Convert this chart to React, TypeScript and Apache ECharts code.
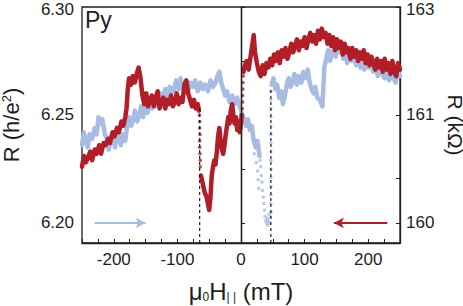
import React, { useEffect, useRef } from 'react';
import * as echarts from 'echarts';

// ---- axis ranges / ticks ----
const fieldMin = -250;
const fieldMax = 250;
const rMin = 6.1907;
const rMax = 6.3;
const leftTickValues = [6.2, 6.225, 6.25, 6.275, 6.3];
const leftLabelValues = [6.2, 6.25, 6.3];
const rightTickValues = [6.2, 6.2205, 6.25, 6.3];
const rightLabelValues = [6.2, 6.25, 6.3];
const rightLabelTexts = ['160', '161', '163'];

// ---- blue sweep (negative -> positive field) ----
const blueLow: [number, number][] = [
  [-250, 6.236], [-247, 6.242], [-244, 6.238], [-241, 6.235], [-238, 6.241], [-234, 6.239], [-230, 6.244],
  [-227, 6.241], [-224, 6.249], [-221, 6.246], [-218, 6.248], [-214, 6.241], [-211, 6.239], [-208, 6.234],
  [-205, 6.238], [-202, 6.24], [-198, 6.235], [-195, 6.242], [-192, 6.239], [-189, 6.236], [-186, 6.241],
  [-182, 6.238], [-179, 6.245], [-176, 6.249], [-173, 6.245], [-170, 6.247], [-167, 6.252], [-163, 6.247],
  [-160, 6.25], [-157, 6.254], [-154, 6.249], [-150, 6.255], [-147, 6.251], [-143, 6.257], [-140, 6.253],
  [-136, 6.256], [-133, 6.259], [-130, 6.254], [-126, 6.26], [-123, 6.256], [-119, 6.262], [-116, 6.258],
  [-112, 6.263], [-109, 6.26], [-106, 6.261], [-102, 6.266], [-98, 6.262], [-95, 6.267], [-91, 6.262],
  [-87, 6.265], [-84, 6.26], [-80, 6.265], [-76, 6.263], [-72, 6.266], [-68, 6.261], [-64, 6.265],
  [-60, 6.262], [-56, 6.264], [-52, 6.261], [-48, 6.266], [-44, 6.263], [-40, 6.265], [-37, 6.268],
  [-34, 6.27], [-31, 6.265], [-28, 6.262], [-25, 6.259], [-22, 6.261], [-18, 6.256], [-14, 6.259],
  [-10, 6.255], [-6, 6.258], [-2, 6.254], [2, 6.25], [5, 6.248], [8, 6.245],
  [11, 6.248], [14, 6.243], [17, 6.245], [20, 6.238], [23, 6.235], [26, 6.238], [29, 6.231],
];
const blueDots: [number, number][] = [
  [30, 6.229], [31, 6.226], [32, 6.222], [33, 6.219], [34, 6.215], [35, 6.212], [36, 6.209],
  [37, 6.206], [38, 6.203], [39, 6.201], [40, 6.2], [41, 6.202], [42, 6.199], [43, 6.201],
  [44, 6.204], [45, 6.2], [46, 6.203], [21, 6.232], [24, 6.228], [26, 6.224], [27, 6.22],
  [28, 6.216],
  [47, 6.205], [47, 6.209], [47, 6.213], [47, 6.217], [47, 6.221], [47, 6.225], [47, 6.229],
  [47, 6.233], [47, 6.237], [47, 6.241], [47, 6.245], [47, 6.249], [47, 6.253], [47, 6.257],
  [47, 6.261],
];
const blueHigh: [number, number][] = [
  [48, 6.264], [51, 6.267], [54, 6.262], [57, 6.264], [60, 6.258], [63, 6.261], [66, 6.255],
  [69, 6.259], [72, 6.264], [75, 6.267], [78, 6.263], [81, 6.265], [84, 6.269], [88, 6.264],
  [91, 6.268], [95, 6.265], [98, 6.27], [102, 6.267], [105, 6.271], [108, 6.265], [111, 6.262],
  [114, 6.26], [117, 6.263], [120, 6.258], [124, 6.257], [128, 6.254], [131, 6.272], [134, 6.276],
  [137, 6.28], [140, 6.275], [143, 6.279], [146, 6.282], [149, 6.277], [152, 6.283], [155, 6.279],
  [158, 6.281], [161, 6.276], [164, 6.279], [167, 6.274], [171, 6.278], [174, 6.275], [178, 6.277],
  [181, 6.273], [184, 6.278], [188, 6.272], [191, 6.275], [194, 6.271], [198, 6.276], [201, 6.272],
  [205, 6.274], [208, 6.27], [212, 6.273], [215, 6.268], [219, 6.272], [222, 6.269], [226, 6.267],
  [229, 6.271], [233, 6.266], [236, 6.27], [240, 6.267], [243, 6.265], [247, 6.27], [250, 6.268],
];

// ---- red sweep (positive -> negative field) ----
const redLow: [number, number][] = [
  [-250, 6.226], [-247, 6.231], [-244, 6.228], [-241, 6.23], [-237, 6.233], [-234, 6.229], [-230, 6.234],
  [-227, 6.232], [-223, 6.236], [-220, 6.232], [-216, 6.237], [-213, 6.236], [-209, 6.239], [-206, 6.237],
  [-202, 6.242], [-199, 6.24], [-195, 6.244], [-192, 6.242], [-188, 6.247], [-185, 6.245], [-182, 6.249],
  [-180, 6.253], [-178, 6.262], [-176, 6.267], [-173, 6.264], [-170, 6.268], [-167, 6.265], [-164, 6.269],
  [-161, 6.272], [-158, 6.267], [-155, 6.259], [-152, 6.255], [-149, 6.26], [-146, 6.254], [-143, 6.257],
  [-140, 6.259], [-137, 6.254], [-134, 6.258], [-131, 6.261], [-128, 6.253], [-125, 6.256], [-122, 6.258],
  [-119, 6.253], [-116, 6.257], [-113, 6.255], [-110, 6.259], [-107, 6.254], [-104, 6.256], [-101, 6.26],
  [-98, 6.255], [-95, 6.258], [-92, 6.256], [-89, 6.264], [-86, 6.266], [-83, 6.26], [-80, 6.257],
  [-77, 6.254], [-74, 6.257], [-71, 6.253], [-68, 6.255], [-66, 6.252],
];
const redMid: [number, number][] = [
  [-63, 6.222], [-60, 6.218], [-57, 6.214], [-54, 6.212], [-52, 6.209], [-50, 6.206],
  [-48, 6.212], [-46, 6.222], [-44, 6.226], [-42, 6.229], [-40, 6.227], [-38, 6.233],
  [-36, 6.24], [-34, 6.244], [-32, 6.238], [-30, 6.234], [-28, 6.232], [-26, 6.236],
  [-24, 6.241], [-22, 6.245], [-20, 6.249], [-18, 6.246], [-16, 6.252], [-14, 6.255],
  [-12, 6.25], [-10, 6.246], [-8, 6.249], [-6, 6.243], [-4, 6.247], [-2, 6.242],
  [0, 6.246], [1, 6.25],
];
const redDots: [number, number][] = [
  [-65.5, 6.25], [-65, 6.247], [-65, 6.244], [-64.5, 6.241], [-65, 6.238], [-65, 6.235],
  [-64.5, 6.232], [-64, 6.229], [-64, 6.226],
  [2, 6.253], [2.5, 6.256], [2.5, 6.259], [3, 6.262], [3, 6.265], [3.5, 6.268],
];
const redHigh: [number, number][] = [
  [4, 6.27], [6, 6.273], [9, 6.275], [12, 6.271], [15, 6.277], [18, 6.283], [20, 6.287],
  [22, 6.279], [25, 6.274], [28, 6.27], [31, 6.268], [34, 6.273], [37, 6.269], [40, 6.274],
  [43, 6.272], [46, 6.276], [49, 6.273], [52, 6.278], [55, 6.275], [58, 6.279], [61, 6.274],
  [64, 6.28], [67, 6.277], [70, 6.281], [73, 6.276], [76, 6.279], [79, 6.283], [82, 6.279],
  [85, 6.282], [88, 6.285], [91, 6.28], [94, 6.284], [97, 6.282], [100, 6.286], [103, 6.281],
  [106, 6.285], [109, 6.288], [112, 6.284], [115, 6.287], [118, 6.283], [121, 6.289],
  [124, 6.285], [127, 6.29], [130, 6.286], [133, 6.288], [136, 6.283], [139, 6.287],
  [142, 6.282], [145, 6.286], [148, 6.28], [151, 6.285], [154, 6.281], [157, 6.284],
  [160, 6.278], [163, 6.283], [166, 6.279], [169, 6.281], [172, 6.276], [175, 6.281],
  [178, 6.277], [181, 6.28], [184, 6.275], [187, 6.279], [190, 6.276], [193, 6.28],
  [196, 6.274], [199, 6.278], [202, 6.273], [205, 6.277], [208, 6.274], [211, 6.271],
  [214, 6.276], [217, 6.272], [220, 6.275], [223, 6.27], [226, 6.276], [229, 6.271],
  [232, 6.274], [235, 6.269], [238, 6.275], [241, 6.27], [244, 6.268], [247, 6.274], [250, 6.271],
];

// ---- switching-field markers and sweep arrows ----
const switchFields = [-65, 47];
const switchTops = [6.253, 6.262];
const blueArrow = { from: -230, to: -150, level: 6.2 };
const redArrow = { from: 230, to: 146, level: 6.2 };

const BLUE = '#a7bce2';
const RED = '#b11e27';
const INK = '#1e1e1e';
const FONT = "'Liberation Sans', Arial, Helvetica, sans-serif";

function lineSeries(data: [number, number][], color: string) {
  return {
    type: 'line',
    data,
    showSymbol: false,
    symbol: 'none',
    lineStyle: { color, width: 4.5, join: 'round', cap: 'round' },
    silent: true,
    z: 3,
  };
}

function dotSeries(data: [number, number][], color: string) {
  return {
    type: 'scatter',
    data,
    symbolSize: 3.5,
    itemStyle: { color },
    silent: true,
    z: 3,
  };
}

function arrowSeries(a: { from: number; to: number; level: number }, color: string) {
  return {
    type: 'line',
    data: [],
    silent: true,
    markLine: {
      silent: true,
      symbol: ['none', 'arrow'],
      symbolSize: [8, 10],
      label: { show: false },
      lineStyle: { color, width: 2, type: 'solid' },
      data: [[{ coord: [a.from, a.level] }, { coord: [a.to, a.level] }]],
    },
  };
}

const topLabelRich = {
  top: { fontSize: 17, color: INK, fontFamily: FONT, lineHeight: 15, padding: [5, 0, 0, 0] },
};

export default function App() {
  const ref = useRef<HTMLDivElement>(null);
  useEffect(() => {
    const chart = echarts.init(ref.current!, null, { renderer: 'svg' });
    const dashed = switchFields.map((f, i) => ({
      type: 'line',
      data: [[f, rMin], [f, switchTops[i]]],
      showSymbol: false,
      symbol: 'none',
      silent: true,
      lineStyle: { color: INK, width: 1.2, type: [3, 3] },
      z: 5,
    }));
    const option: any = {
      animation: false,
      textStyle: { fontFamily: FONT },
      grid: {
        left: 82, right: 63, top: 7, bottom: 63,
        outerBoundsMode: 'none',
        containLabel: false,
        show: true, borderColor: INK, borderWidth: 1.3, backgroundColor: 'transparent',
      },
      xAxis: {
        type: 'value',
        min: fieldMin,
        max: fieldMax,
        interval: 25,
        axisLine: { show: true, lineStyle: { color: INK, width: 1.3 } },
        axisTick: { show: true, inside: true, length: 4, lineStyle: { color: INK, width: 1 } },
        splitLine: { show: false },
        axisLabel: {
          color: INK, fontSize: 17, fontFamily: FONT, margin: 8,
          formatter: (v: number) => (Math.abs(v % 100) < 1e-9 ? String(v) : ''),
        },
        name: '{a|μ}{s|0}{a|H}{t|| |}{a| (mT)}',
        nameLocation: 'middle',
        nameGap: 36,
        nameTextStyle: {
          color: INK,
          fontFamily: FONT,
          rich: {
            a: { fontSize: 24, color: INK, fontFamily: FONT, verticalAlign: 'bottom' },
            s: { fontSize: 12, color: INK, fontFamily: FONT, verticalAlign: 'bottom' },
            t: { fontSize: 12, color: INK, fontFamily: FONT, verticalAlign: 'bottom' },
          },
        },
      },
      yAxis: [
        {
          type: 'value',
          position: 'left',
          min: rMin,
          max: rMax,
          axisLine: { show: true, lineStyle: { color: INK, width: 1.3 } },
          axisTick: {
            show: true, inside: true, length: 4, customValues: leftTickValues,
            lineStyle: { color: INK, width: 1 },
          },
          splitLine: { show: false },
          axisLabel: {
            color: INK, fontSize: 17, fontFamily: FONT, margin: 8,
            customValues: leftLabelValues,
            formatter: (v: number) => (Math.abs(v - rMax) < 1e-6 ? `{top|${v.toFixed(2)}}` : v.toFixed(2)),
            rich: topLabelRich,
          },
          name: 'R (h/e{sup|2})',
          nameLocation: 'middle',
          nameGap: 60,
          nameRotate: 90,
          nameTextStyle: {
            color: INK, fontSize: 22, fontFamily: FONT,
            rich: { sup: { fontSize: 13, color: INK, fontFamily: FONT, verticalAlign: 'top' } },
          },
        },
        {
          type: 'value',
          position: 'right',
          min: rMin,
          max: rMax,
          axisLine: { show: true, lineStyle: { color: INK, width: 1.3 } },
          axisTick: {
            show: true, inside: true, length: 4, customValues: rightTickValues,
            lineStyle: { color: INK, width: 1 },
          },
          splitLine: { show: false },
          axisLabel: {
            color: INK, fontSize: 17, fontFamily: FONT, margin: 6,
            customValues: rightLabelValues,
            formatter: (v: number) => {
              const i = rightLabelValues.findIndex((x) => Math.abs(x - v) < 1e-6);
              if (i < 0) return '';
              return Math.abs(v - rMax) < 1e-6 ? `{top|${rightLabelTexts[i]}}` : rightLabelTexts[i];
            },
            rich: topLabelRich,
          },
          name: 'R (kΩ)',
          nameLocation: 'middle',
          nameGap: 36,
          nameRotate: -90,
          nameTextStyle: { color: INK, fontSize: 21, fontFamily: FONT },
        },
      ],
      graphic: [
        {
          type: 'text',
          left: 85,
          top: 8,
          style: { text: 'Py', fontSize: 23, fontFamily: FONT, fill: INK },
        },
      ],
      series: [
        lineSeries(blueLow, BLUE),
        lineSeries(blueHigh, BLUE),
        dotSeries(blueDots, BLUE),
        lineSeries(redLow, RED),
        lineSeries(redMid, RED),
        lineSeries(redHigh, RED),
        dotSeries(redDots, RED),
        ...dashed,
        {
          type: 'line',
          data: [],
          silent: true,
          markLine: {
            silent: true,
            symbol: ['none', 'none'],
            label: { show: false },
            lineStyle: { color: INK, width: 1.3, type: 'solid' },
            data: [{ xAxis: 0 }],
          },
          z: 6,
        },
        arrowSeries(blueArrow, BLUE),
        arrowSeries(redArrow, RED),
      ],
    };
    chart.setOption(option);
    return () => chart.dispose();
  }, []);
  return (
    <div
      ref={ref}
      style={{ position: 'absolute', left: 0, top: 0, width: 463, height: 306 }}
    />
  );
}
